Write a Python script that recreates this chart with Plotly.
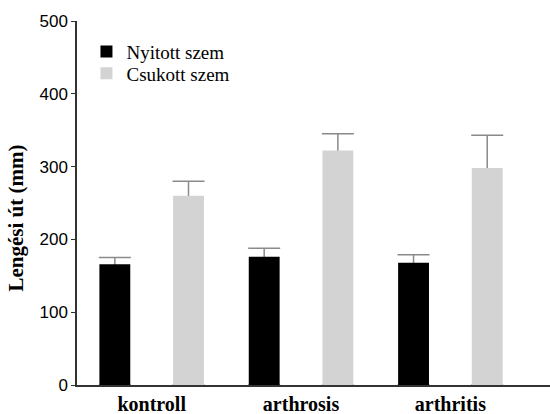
import plotly.graph_objects as go

categories = ["kontroll", "arthrosis", "arthritis"]
series_names = ["Nyitott szem", "Csukott szem"]
nyitott = [166, 176, 168]
nyitott_err = [9, 12, 11]
csukott = [260, 322, 298]
csukott_err = [20, 23, 45]
y_ticks = [0, 100, 200, 300, 400, 500]
y_title = "Lengési út (mm)"

SERIF = "Liberation Serif, Times New Roman, serif"
SANS = "Liberation Sans, Arial, sans-serif"

colors = ["#000000", "#d3d3d3"]
values = [nyitott, csukott]
errors = [nyitott_err, csukott_err]
offsets = [-0.35, 0.1433]
legends = ["legend", "legend2"]
bar_w = 0.2067

fig = go.Figure()
for name, vals, errs, col, off, lg in zip(series_names, values, errors, colors, offsets, legends):
    # error bars drawn first (transparent bar), so visible bar covers the lower part
    fig.add_trace(go.Bar(
        x=categories, y=vals, width=bar_w, offset=off,
        marker=dict(color="rgba(0,0,0,0)", line=dict(width=0)),
        error_y=dict(type="data", symmetric=False, array=errs, arrayminus=vals,
                     color="#8a8a8a", thickness=1.5, width=16),
        showlegend=False, hoverinfo="skip",
    ))
    fig.add_trace(go.Bar(
        x=categories, y=vals, width=bar_w, offset=off, name=name, legend=lg,
        marker=dict(color=col, line=dict(width=0)),
    ))

leg_common = dict(x=0.02, xanchor="left", yanchor="top",
                  font=dict(family=SERIF, size=19, color="#000"),
                  bgcolor="rgba(0,0,0,0)", itemwidth=30)
fig.update_layout(
    width=550, height=414,
    margin=dict(l=77, r=0, t=21, b=29),
    barmode="overlay",
    paper_bgcolor="white", plot_bgcolor="white",
    showlegend=True,
    legend=dict(y=0.968, **leg_common),
    legend2=dict(y=0.908, **leg_common),
)
fig.add_annotation(
    text=y_title, textangle=-90, showarrow=False,
    xref="paper", yref="paper", x=-0.129, y=0.46, xanchor="center", yanchor="middle",
    font=dict(family=SERIF, size=21, color="#000", weight="bold"),
)
fig.update_xaxes(
    type="category", range=[-0.5, 2.667],
    showline=True, linecolor="#333", linewidth=1.5,
    ticks="", showgrid=False, zeroline=False,
    tickfont=dict(family=SERIF, size=20, color="#000", weight="bold"),
)
fig.update_yaxes(
    range=[0, 500], tickvals=y_ticks,
    showline=True, linecolor="#333", linewidth=1.5,
    ticks="outside", ticklen=4, tickcolor="#333", tickwidth=1,
    showgrid=False, zeroline=False,
    tickfont=dict(family=SANS, size=17, color="#000"),
)
fig.write_html("out.html")
